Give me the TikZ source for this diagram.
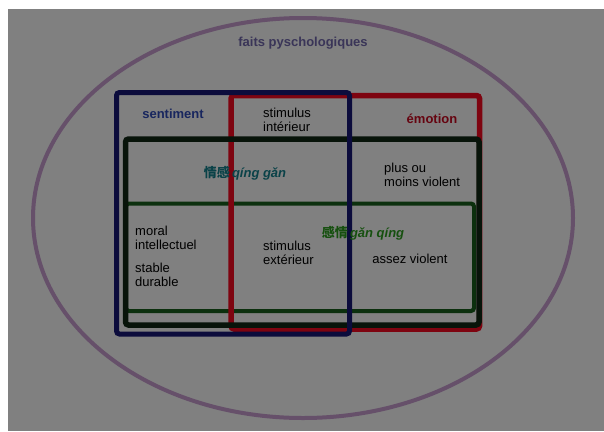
\documentclass[tikz,border=0pt]{standalone}
\usepackage{fontspec}
\setmainfont{Liberation Sans}
\newfontfamily\cjk{Noto Sans CJK SC}
\definecolor{fond}{HTML}{808080}
\definecolor{ovale}{HTML}{66506A}
\definecolor{titre}{HTML}{3A3558}
\definecolor{bleu}{HTML}{0C0C3C}
\definecolor{rouge}{HTML}{7E0410}
\definecolor{noir}{HTML}{08140A}
\definecolor{vert}{HTML}{0C300E}
\definecolor{bleutxt}{HTML}{18265E}
\definecolor{rougetxt}{HTML}{660410}
\definecolor{sarcelle}{HTML}{0A4248}
\definecolor{verttxt}{HTML}{16500F}
\tikzset{
	cadre/.style={rounded corners=3pt, line width=#1},
	mot/.style={font=\fontsize{13}{14}\selectfont, align=left, inner sep=0pt},
	gras/.style={mot, font=\fontsize{13}{14}\selectfont\bfseries}
}

\begin{document}
\begin{tikzpicture}[x=1pt,y=-1pt]
	\useasboundingbox (0,0) rectangle (604,431);
	\fill[fond] (8,9) rectangle (604,431);
	% l'ovale
	\draw[ovale, line width=4pt] (303,218) ellipse [x radius=270, y radius=200];
	\node (faits) [gras, color=titre] at (303,43) {faits pyschologiques};

	% les cadres
	\draw[vert, cadre=4pt] (126,203.5) rectangle (474,311);
	\draw[rouge, cadre=5.5pt] (231,95.5) rectangle (479.5,329);
	\draw[noir, cadre=5.5pt] (125.5,139) rectangle (479,325);
	\draw[bleu, cadre=5pt] (116.5,92.5) rectangle (349.5,334);

	% les textes
	\node (sentiment) [gras, color=bleutxt] at (173,114) {sentiment};
	\node (emotion) [gras, color=rougetxt] at (432,119) {émotion};
	\node (interieur) [mot, anchor=west] at (263,120) {stimulus\\intérieur};
	\node (qinggan) [gras, color=sarcelle] at (245,173) {{\cjk 情感}\,\itshape qíng gǎn};
	\node (violent) [mot, anchor=west] at (384,175) {plus ou\\moins violent};
	\node (ganqing) [gras, color=verttxt] at (363,233) {{\cjk 感情}\,\itshape gǎn qíng};
	\node (moral) [mot, anchor=west] at (135,238) {moral\\intellectuel};
	\node (stable) [mot, anchor=west] at (135,275) {stable\\durable};
	\node (exterieur) [mot, anchor=west] at (263,253) {stimulus\\extérieur};
	\node (assez) [mot] at (410,259) {assez violent};
\end{tikzpicture}
\end{document}
